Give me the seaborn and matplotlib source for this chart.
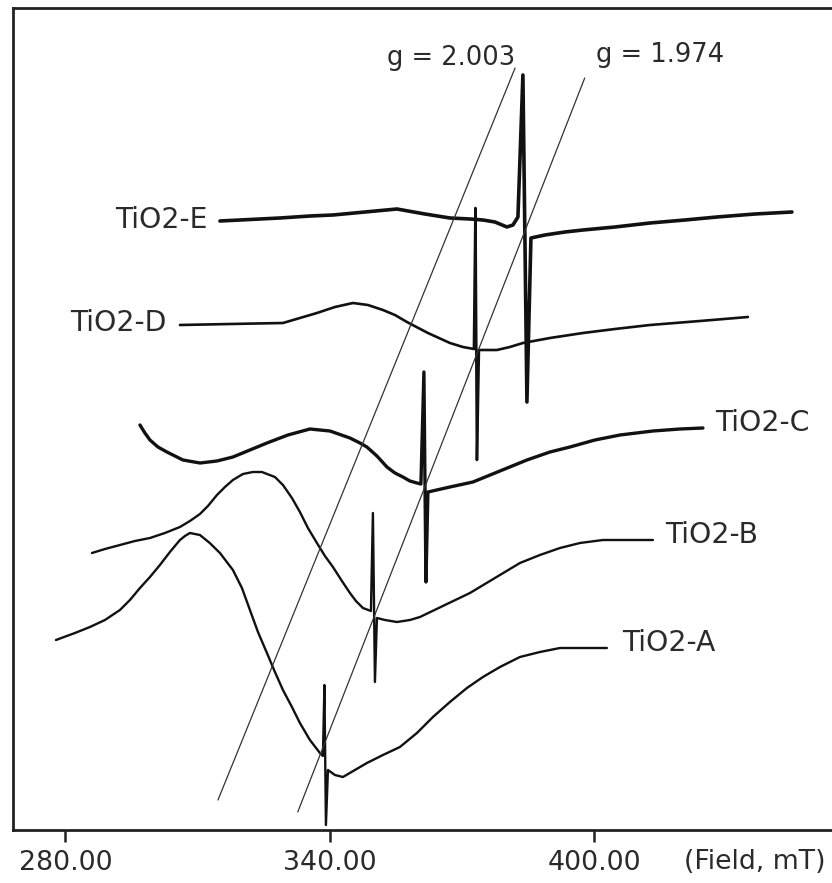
import matplotlib
matplotlib.use("Agg")
import matplotlib.pyplot as plt
import seaborn as sns
import pandas as pd

# ---- data (field in mT, signal in arbitrary units incl. stacking offset) ----
field_E = [315.05, 321.85, 328.66, 335.46, 340.68, 347.94, 355.20, 361.55, 367.22, 371.76,
           374.71, 377.43, 380.15, 381.52, 382.65, 383.78, 384.69, 385.60, 388.77, 393.31,
           397.40, 404.66, 412.60, 420.54, 427.80, 436.42, 444.81]
signal_E = [609, 610.5, 612, 614, 615, 618, 621, 616, 612, 611,
            610, 608, 603, 605, 613, 755, 428, 592, 595, 598,
            600, 603, 607, 610, 613, 616, 618]

field_D = [305.97, 317.31, 329.34, 333.19, 337.05, 341.13, 345.22, 348.62, 352.02, 354.75,
           357.47, 362.23, 367.22, 370.17, 372.67, 373.01, 373.35, 373.80, 377.89, 380.83,
           383.78, 389.91, 397.40, 404.66, 412.60, 423.94, 434.83]
signal_D = [505, 506, 507, 512, 517, 523, 527, 525, 520, 515,
            508, 497, 487, 483, 481, 622, 370, 480, 480, 483,
            487, 492, 497, 501, 505, 509, 513]

field_C = [296.90, 298.03, 299.17, 300.98, 303.02, 306.65, 310.51, 314.37, 317.99, 321.85,
           325.71, 330.47, 335.46, 340.00, 344.54, 346.81, 348.39, 350.66, 352.93, 354.75,
           356.56, 358.15, 359.74, 360.64, 361.32, 361.78, 362.23, 367.22, 372.44, 378.57,
           384.69, 389.91, 394.45, 400.12, 405.79, 413.28, 419.40, 424.62]
signal_C = [405, 397, 390, 383, 378, 370, 367, 369, 373, 380,
            387, 395, 401, 399, 392, 387, 383, 374, 363, 357,
            353, 349, 347, 346, 458, 248, 338, 343, 348, 359,
            370, 378, 383, 390, 395, 399, 401, 402]

field_B = [286.01, 288.96, 292.36, 295.76, 299.17, 302.57, 305.97, 308.24, 310.51, 312.32,
           314.37, 316.18, 317.99, 320.26, 322.53, 324.57, 327.52, 329.34, 331.38, 333.19,
           335.01, 337.05, 338.87, 340.68, 342.72, 344.54, 345.90, 347.49, 349.30, 349.75,
           350.21, 350.66, 352.48, 355.20, 358.15, 360.42, 366.09, 371.76, 377.43, 383.10,
           387.64, 392.18, 396.72, 401.93, 408.06, 413.28]
signal_B = [277, 281, 285, 289, 292, 297, 303, 309, 316, 324,
            335, 343, 350, 356, 358, 358, 353, 345, 332, 318,
            302, 287, 274, 263, 249, 237, 229, 222, 219, 317,
            148, 212, 210, 208, 210, 213, 225, 237, 252, 267,
            275, 282, 287, 290, 290, 290]

field_A = [277.84, 282.15, 285.55, 288.96, 292.36, 294.63, 296.90, 299.17, 301.43, 303.70,
           305.97, 307.11, 308.24, 310.51, 312.74, 315.05, 317.99, 320.04, 321.85, 323.67,
           325.71, 327.52, 329.34, 331.38, 333.19, 335.46, 337.73, 338.41, 338.75, 339.09,
           339.55, 341.13, 342.95, 345.67, 348.39, 352.02, 355.88, 359.74, 363.37, 367.22,
           371.08, 374.71, 378.57, 383.10, 387.64, 392.18, 397.85, 402.84]
signal_A = [190, 197, 203, 210, 220, 230, 242, 253, 265, 278,
            290, 294, 297, 295, 287, 277, 260, 242, 220, 198,
            177, 158, 140, 123, 107, 90, 77, 74, 145, 5,
            60, 55, 53, 60, 67, 75, 83, 97, 113, 128,
            142, 153, 163, 173, 178, 182, 182, 182]

samples = ["TiO2-E", "TiO2-D", "TiO2-C", "TiO2-B", "TiO2-A"]

# g-value guide lines (field, signal end points)
g_labels = ["g = 2.003", "g = 1.974"]
g_field = [[314.6, 382.0], [332.7, 397.8]]
g_signal = [[30, 762], [18, 752]]

tick_values = [280, 340, 400]
tick_labels = ["280.00", "340.00", "400.00"]
axis_label = "(Field, mT)"

# ---- plotting ----
sns.set_style("white")
plt.rcParams["font.family"] = ["DejaVu Sans"]

W, H = 832, 883
fig = plt.figure(figsize=(W / 100, H / 100), dpi=100)
ax = fig.add_axes([13 / W, (H - 830) / H, (W - 13) / W, (830 - 8) / H])

traces = {
    "TiO2-E": (field_E, signal_E, 2.6),
    "TiO2-D": (field_D, signal_D, 1.9),
    "TiO2-C": (field_C, signal_C, 2.4),
    "TiO2-B": (field_B, signal_B, 1.7),
    "TiO2-A": (field_A, signal_A, 1.7),
}
for name in samples:
    f, s, lw = traces[name]
    df = pd.DataFrame({"field": f, "signal": s})
    sns.lineplot(data=df, x="field", y="signal", ax=ax, color="#111111",
                 linewidth=lw, sort=False, estimator=None,
                 solid_joinstyle="round", solid_capstyle="round")

for gf, gs in zip(g_field, g_signal):
    ax.plot(gf, gs, color="#333333", linewidth=0.9)

label_pos = {
    "TiO2-E": (312.3, 610, "right"),
    "TiO2-D": (303.0, 507, "right"),
    "TiO2-C": (427.3, 407, "left"),
    "TiO2-B": (416.0, 295, "left"),
    "TiO2-A": (406.2, 187, "left"),
}
txt_color = "#2a2a2a"
for name in samples:
    x, y, ha = label_pos[name]
    ax.text(x, y, name, ha=ha, va="center", fontsize=20.3, color=txt_color)

ax.text(382.0, 765, g_labels[0], ha="right", va="baseline", fontsize=18.5, color=txt_color)
ax.text(400.3, 768, g_labels[1], ha="left", va="baseline", fontsize=18.5, color=txt_color)

ax.set_xlim(268.1, 453.9)
ax.set_ylim(0, 822)
ax.set_xticks(tick_values)
ax.set_xticklabels(tick_labels)
ax.set_yticks([])
ax.set_xlabel("")
ax.set_ylabel("")
ax.tick_params(axis="x", direction="out", length=8.5, width=1.8, color="#222222",
               pad=6, labelsize=19.3, labelcolor=txt_color, bottom=True)

for side in ["left", "top", "bottom"]:
    ax.spines[side].set_visible(True)
    ax.spines[side].set_color("#222222")
    ax.spines[side].set_linewidth(2.0)
ax.spines["right"].set_visible(False)

fig.text(684 / W, 1 - 862 / H, axis_label, ha="left", va="center", fontsize=19.3, color=txt_color)

fig.savefig("out.png", dpi=100)
